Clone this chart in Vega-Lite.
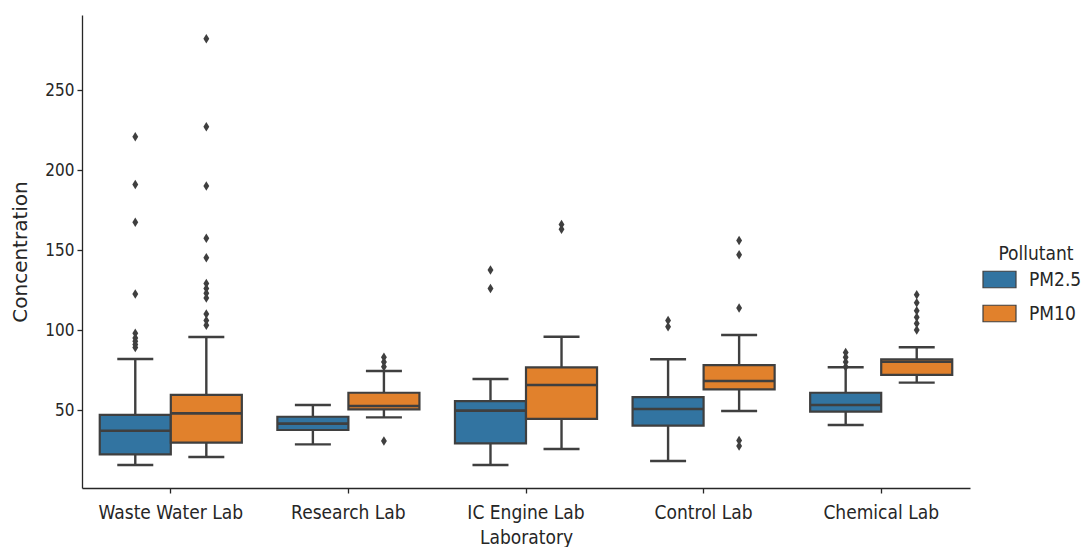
{
  "$schema": "https://vega.github.io/schema/vega-lite/v6.json",
  "autosize": {"type": "none"},
  "padding": {"left": 82, "top": 15, "right": 112, "bottom": 59},
  "width": 888,
  "height": 473,
  "config": {
    "font": "DejaVu Sans",
    "view": {"stroke": null},
    "axis": {
      "grid": false,
      "domainColor": "#262626",
      "tickColor": "#262626",
      "labelColor": "#262626",
      "titleColor": "#262626",
      "labelFont": "DejaVu Sans Condensed, DejaVu Sans",
      "titleFont": "DejaVu Sans Condensed, DejaVu Sans",
      "labelFontSize": 19,
      "titleFontSize": 19,
      "titleFontWeight": "normal",
      "tickSize": 5,
      "domainWidth": 1.3,
      "tickWidth": 1.3
    },
    "legend": {
      "labelFont": "DejaVu Sans Condensed, DejaVu Sans",
      "titleFont": "DejaVu Sans Condensed, DejaVu Sans",
      "labelFontSize": 19,
      "titleFontSize": 19,
      "titleFontWeight": "normal",
      "labelColor": "#262626",
      "titleColor": "#262626"
    }
  },
  "datasets": {
    "boxes": [
      {"lab": "Waste Water Lab", "pollutant": "PM2.5", "lower": 15.6, "q1": 22.3, "median": 37, "q3": 46.9, "upper": 81.9},
      {"lab": "Waste Water Lab", "pollutant": "PM10", "lower": 20.6, "q1": 29.6, "median": 47.9, "q3": 59.4, "upper": 95.6},
      {"lab": "Research Lab", "pollutant": "PM2.5", "lower": 28.5, "q1": 37.5, "median": 41.5, "q3": 45.8, "upper": 53.1},
      {"lab": "Research Lab", "pollutant": "PM10", "lower": 45.4, "q1": 50.4, "median": 52.5, "q3": 60.8, "upper": 74.4},
      {"lab": "IC Engine Lab", "pollutant": "PM2.5", "lower": 15.6, "q1": 29.2, "median": 49.6, "q3": 55.6, "upper": 69.4},
      {"lab": "IC Engine Lab", "pollutant": "PM10", "lower": 25.6, "q1": 44.4, "median": 65.6, "q3": 76.7, "upper": 95.8},
      {"lab": "Control Lab", "pollutant": "PM2.5", "lower": 18.1, "q1": 40.2, "median": 50.6, "q3": 58.1, "upper": 81.7},
      {"lab": "Control Lab", "pollutant": "PM10", "lower": 49.4, "q1": 62.9, "median": 68.1, "q3": 78.1, "upper": 96.9},
      {"lab": "Chemical Lab", "pollutant": "PM2.5", "lower": 40.6, "q1": 49, "median": 53.1, "q3": 60.8, "upper": 76.7},
      {"lab": "Chemical Lab", "pollutant": "PM10", "lower": 67.1, "q1": 71.9, "median": 80.2, "q3": 81.7, "upper": 89.2}
    ],
    "outliers": [
      {"lab": "Waste Water Lab", "pollutant": "PM2.5", "value": 220.8},
      {"lab": "Waste Water Lab", "pollutant": "PM2.5", "value": 191},
      {"lab": "Waste Water Lab", "pollutant": "PM2.5", "value": 167.3},
      {"lab": "Waste Water Lab", "pollutant": "PM2.5", "value": 122.5},
      {"lab": "Waste Water Lab", "pollutant": "PM2.5", "value": 98},
      {"lab": "Waste Water Lab", "pollutant": "PM2.5", "value": 95},
      {"lab": "Waste Water Lab", "pollutant": "PM2.5", "value": 93},
      {"lab": "Waste Water Lab", "pollutant": "PM2.5", "value": 91},
      {"lab": "Waste Water Lab", "pollutant": "PM2.5", "value": 89},
      {"lab": "Waste Water Lab", "pollutant": "PM10", "value": 282},
      {"lab": "Waste Water Lab", "pollutant": "PM10", "value": 227},
      {"lab": "Waste Water Lab", "pollutant": "PM10", "value": 190},
      {"lab": "Waste Water Lab", "pollutant": "PM10", "value": 157.3},
      {"lab": "Waste Water Lab", "pollutant": "PM10", "value": 145.2},
      {"lab": "Waste Water Lab", "pollutant": "PM10", "value": 129},
      {"lab": "Waste Water Lab", "pollutant": "PM10", "value": 126},
      {"lab": "Waste Water Lab", "pollutant": "PM10", "value": 123},
      {"lab": "Waste Water Lab", "pollutant": "PM10", "value": 120},
      {"lab": "Waste Water Lab", "pollutant": "PM10", "value": 110},
      {"lab": "Waste Water Lab", "pollutant": "PM10", "value": 106},
      {"lab": "Waste Water Lab", "pollutant": "PM10", "value": 103},
      {"lab": "Research Lab", "pollutant": "PM10", "value": 83},
      {"lab": "Research Lab", "pollutant": "PM10", "value": 80},
      {"lab": "Research Lab", "pollutant": "PM10", "value": 77},
      {"lab": "Research Lab", "pollutant": "PM10", "value": 30.6},
      {"lab": "IC Engine Lab", "pollutant": "PM2.5", "value": 137.5},
      {"lab": "IC Engine Lab", "pollutant": "PM2.5", "value": 126},
      {"lab": "IC Engine Lab", "pollutant": "PM10", "value": 166},
      {"lab": "IC Engine Lab", "pollutant": "PM10", "value": 163},
      {"lab": "Control Lab", "pollutant": "PM2.5", "value": 106},
      {"lab": "Control Lab", "pollutant": "PM2.5", "value": 102},
      {"lab": "Control Lab", "pollutant": "PM10", "value": 156},
      {"lab": "Control Lab", "pollutant": "PM10", "value": 147},
      {"lab": "Control Lab", "pollutant": "PM10", "value": 113.8},
      {"lab": "Control Lab", "pollutant": "PM10", "value": 31},
      {"lab": "Control Lab", "pollutant": "PM10", "value": 27.5},
      {"lab": "Chemical Lab", "pollutant": "PM2.5", "value": 86},
      {"lab": "Chemical Lab", "pollutant": "PM2.5", "value": 83},
      {"lab": "Chemical Lab", "pollutant": "PM2.5", "value": 80},
      {"lab": "Chemical Lab", "pollutant": "PM2.5", "value": 77},
      {"lab": "Chemical Lab", "pollutant": "PM10", "value": 122},
      {"lab": "Chemical Lab", "pollutant": "PM10", "value": 117},
      {"lab": "Chemical Lab", "pollutant": "PM10", "value": 112},
      {"lab": "Chemical Lab", "pollutant": "PM10", "value": 108},
      {"lab": "Chemical Lab", "pollutant": "PM10", "value": 104},
      {"lab": "Chemical Lab", "pollutant": "PM10", "value": 100}
    ]
  },
  "encoding": {
    "x": {
      "field": "lab", "type": "nominal",
      "sort": ["Waste Water Lab", "Research Lab", "IC Engine Lab", "Control Lab", "Chemical Lab"],
      "scale": {"paddingInner": 0.2, "paddingOuter": 0.1},
      "axis": {"title": "Laboratory", "labelAngle": 0, "labelPadding": 10, "titlePadding": 6}
    },
    "xOffset": {
      "field": "pollutant", "type": "nominal",
      "sort": ["PM2.5", "PM10"],
      "scale": {"paddingInner": 0, "paddingOuter": 0}
    }
  },
  "layer": [
    {
      "data": {"name": "boxes"},
      "mark": {"type": "rule", "color": "#3f3f3f", "strokeWidth": 2.4},
      "encoding": {
        "y": {"field": "lower", "type": "quantitative",
          "scale": {"domain": [1.25, 296.9], "nice": false, "zero": false},
          "axis": {"title": "Concentration", "values": [50, 100, 150, 200, 250], "titlePadding": 14, "labelPadding": 3, "labelFontSize": 17, "titleFont": "DejaVu Sans", "titleFontSize": 20}},
        "y2": {"field": "upper"}
      }
    },
    {
      "data": {"name": "boxes"},
      "mark": {"type": "tick", "color": "#3f3f3f", "size": 36, "thickness": 2.4, "opacity": 1},
      "encoding": {"y": {"field": "lower", "type": "quantitative"}}
    },
    {
      "data": {"name": "boxes"},
      "mark": {"type": "tick", "color": "#3f3f3f", "size": 36, "thickness": 2.4, "opacity": 1},
      "encoding": {"y": {"field": "upper", "type": "quantitative"}}
    },
    {
      "data": {"name": "boxes"},
      "mark": {"type": "bar", "stroke": "#3f3f3f", "strokeWidth": 2.2, "opacity": 1},
      "encoding": {
        "y": {"field": "q1", "type": "quantitative"},
        "y2": {"field": "q3"},
        "color": {
          "field": "pollutant", "type": "nominal",
          "sort": ["PM2.5", "PM10"],
          "scale": {"domain": ["PM2.5", "PM10"], "range": ["#3274a1", "#e1812c"]},
          "legend": {
            "title": "Pollutant",
            "orient": "none",
            "legendX": 908,
            "legendY": 230,
            "titleAnchor": "middle",
            "symbolType": "M-2,-1H2V1H-2Z",
            "symbolSize": 272,
            "symbolStrokeColor": "#3f3f3f",
            "symbolStrokeWidth": 1.2,
            "rowPadding": 11,
            "labelOffset": 20,
            "titlePadding": 6
          }
        }
      }
    },
    {
      "data": {"name": "boxes"},
      "mark": {"type": "tick", "color": "#3f3f3f", "size": 71, "thickness": 2.6, "opacity": 1},
      "encoding": {"y": {"field": "median", "type": "quantitative"}}
    },
    {
      "data": {"name": "outliers"},
      "mark": {"type": "point", "filled": true, "color": "#3f3f3f", "opacity": 1, "shape": "M0,-1L0.62,0L0,1L-0.62,0Z", "size": 90},
      "encoding": {"y": {"field": "value", "type": "quantitative"}}
    }
  ]
}
